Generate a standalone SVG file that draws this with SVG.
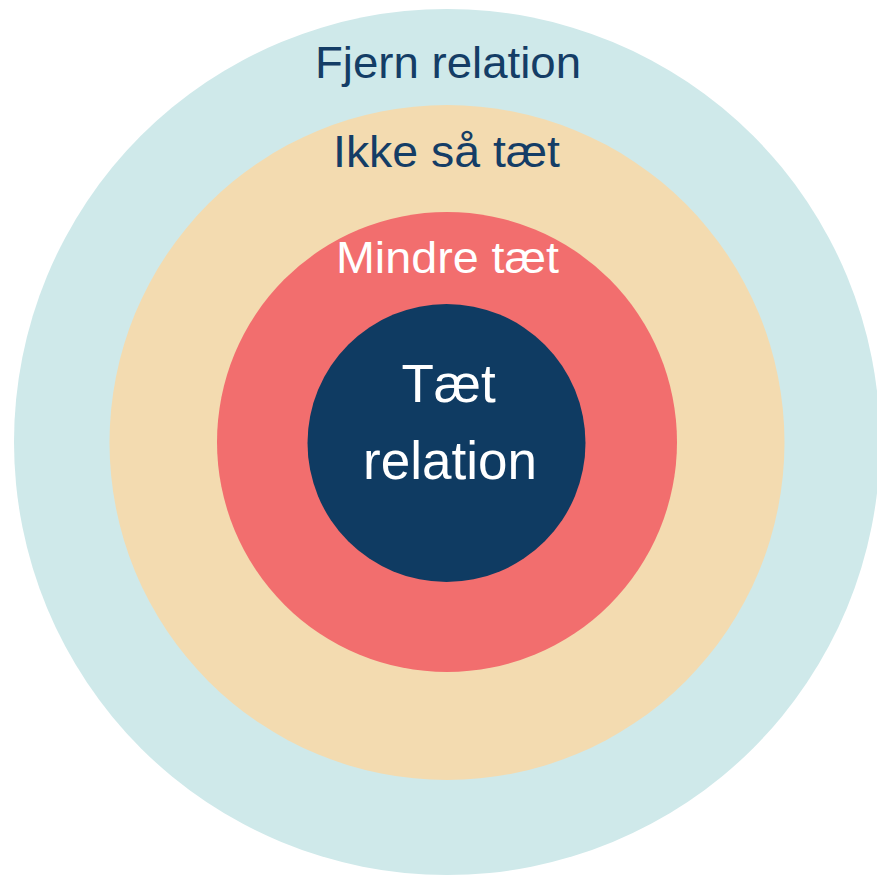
<svg xmlns="http://www.w3.org/2000/svg" width="877" height="877" viewBox="0 0 877 877">
  <style>
    .lbl { font-family: "Liberation Sans", Arial, sans-serif; text-anchor: middle; }
    .dark { fill: #143D66; }
    .light { fill: #FFFFFF; }
  </style>
  <rect width="877" height="877" fill="#FFFFFF"/>
  <g id="ring-fjern">
    <circle cx="447" cy="442" r="433" fill="#CFE9EA"/>
    <text class="lbl dark" x="448" y="78" font-size="44" textLength="266" lengthAdjust="spacingAndGlyphs">Fjern relation</text>
  </g>
  <g id="ring-ikke">
    <circle cx="447" cy="442.5" r="337.5" fill="#F3DBB0"/>
    <text class="lbl dark" x="446.5" y="167" font-size="44" textLength="227" lengthAdjust="spacingAndGlyphs">Ikke så tæt</text>
  </g>
  <g id="ring-mindre">
    <circle cx="447" cy="442" r="230" fill="#F26E6E"/>
    <text class="lbl light" x="447.5" y="273" font-size="44" textLength="223" lengthAdjust="spacingAndGlyphs">Mindre tæt</text>
  </g>
  <g id="core">
    <circle cx="446.5" cy="443" r="139" fill="#0F3B62"/>
    <text class="lbl light" x="448.5" y="402" font-size="53">Tæt</text>
    <text class="lbl light" x="450" y="479" font-size="53">relation</text>
  </g>
</svg>
